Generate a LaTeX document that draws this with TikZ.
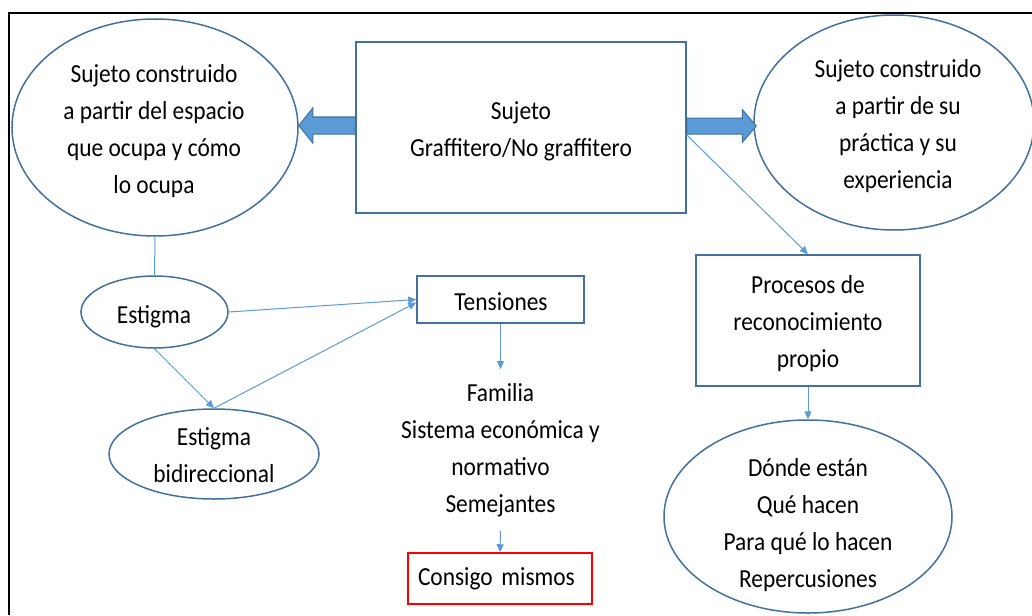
\documentclass[tikz,border=0pt]{standalone}
\usepackage{fontspec}
\setmainfont{Carlito}[FakeStretch=0.9]
\usetikzlibrary{arrows.meta,shapes.geometric}
\definecolor{outl}{HTML}{41719C}
\definecolor{conn}{HTML}{5B9BD5}
\begin{document}
\begin{tikzpicture}[x=1pt,y=-1pt,
  every node/.style={font=\fontsize{26}{37}\selectfont},
  ell/.style={draw=outl, line width=1.5pt, ellipse, inner sep=0pt},
  box/.style={draw=outl, line width=1.5pt, rectangle, inner sep=0pt},
  txt/.style={align=center, inner sep=0pt},
  conline/.style={draw=conn, line width=1pt},
  conarrow/.style={conline, -{Triangle[length=8pt,width=7pt]}},
  bigarrow/.style={fill=conn, draw=outl, line width=1pt},
]
\useasboundingbox (0,0) rectangle (1032,615);
\fill[white] (0,0) rectangle (1032,615);
\draw[line width=2pt] (9,615) -- (9,13) -- (1032,13);

% shapes
\node[ell, minimum width=286pt, minimum height=217pt] (L) at (155,127.5) {};
\node[txt] (Lt) at (154,131.5) {Sujeto construido\\a partir del espacio\\que ocupa y cómo\\lo ocupa};

\node[ell, minimum width=280pt, minimum height=215pt] (R) at (894,122.5) {};
\node[txt] (Rt) at (898,126) {Sujeto construido\\a partir de su\\práctica y su\\experiencia};

\node[box, minimum width=330pt, minimum height=171pt] (S) at (521,127.5) {};
\node[txt] (St) at (521,131.5) {Sujeto\\Graffitero/No graffitero};

\node[box, minimum width=224pt, minimum height=131pt] (P) at (808,320.5) {};
\node[txt] (Pt) at (808,324) {Procesos de\\reconocimiento\\propio};

\node[ell, minimum width=288pt, minimum height=193pt] (D) at (808,516.5) {};
\node[txt] (Dt) at (808,525) {Dónde están\\Qué hacen\\Para qué lo hacen\\Repercusiones};

\node[ell, minimum width=147pt, minimum height=72pt] (E) at (154.5,312) {};
\node[txt] (Et) at (154,316.5) {Estigma};

\node[ell, minimum width=210pt, minimum height=90pt] (B) at (214,454) {};
\node[txt] (Bt) at (214,455.5) {Estigma\\bidireccional};

\node[box, minimum width=167pt, minimum height=47pt] (T) at (500.5,299.5) {};
\node[txt] (Tt) at (501,301.5) {Tensiones};

\node[txt, inner ysep=14pt] (F) at (500.5,450) {Familia\\Sistema económica y\\normativo\\Semejantes};

\node[draw=red, line width=1.5pt, minimum width=184pt, minimum height=51pt,
      text width=164pt, align=left, inner xsep=10pt, inner ysep=0pt] (C) at (500,578.5) {Consigo mismos};

% thick arrows
\coordinate (la) at ([yshift=2pt]S.west);
\coordinate (lb) at (L.east |- la);
\filldraw[bigarrow] ([yshift=8.5pt]la) -- ([xshift=14pt,yshift=8.5pt]lb) -- ([xshift=14pt,yshift=17.5pt]lb) -- (lb)
  -- ([xshift=14pt,yshift=-17.5pt]lb) -- ([xshift=14pt,yshift=-8.5pt]lb) -- ([yshift=-8.5pt]la) -- cycle;
\coordinate (ra) at ([yshift=1.5pt]S.east);
\coordinate (rb) at ([xshift=3pt]R.west |- ra);
\filldraw[bigarrow] ([yshift=8pt]ra) -- ([xshift=-14pt,yshift=8pt]rb) -- ([xshift=-14pt,yshift=16.5pt]rb) -- (rb)
  -- ([xshift=-14pt,yshift=-16.5pt]rb) -- ([xshift=-14pt,yshift=-8pt]rb) -- ([yshift=-8pt]ra) -- cycle;

% connectors
\draw[conline] (L.south) -- (E.north);
\draw[conarrow] (E.east) -- (T.west);
\draw[conarrow] (E.south) -- (B.north);
\draw[conarrow] (B.north) -- ([yshift=-3pt]T.west);
\draw[conarrow] (T.south) -- (F.north);
\draw[conarrow] (F.south) -- (C.north);
\draw[conarrow] ([yshift=-7.5pt]S.east) -- (P.north);
\draw[conarrow] (P.south) -- (D.north);
\end{tikzpicture}
\end{document}
